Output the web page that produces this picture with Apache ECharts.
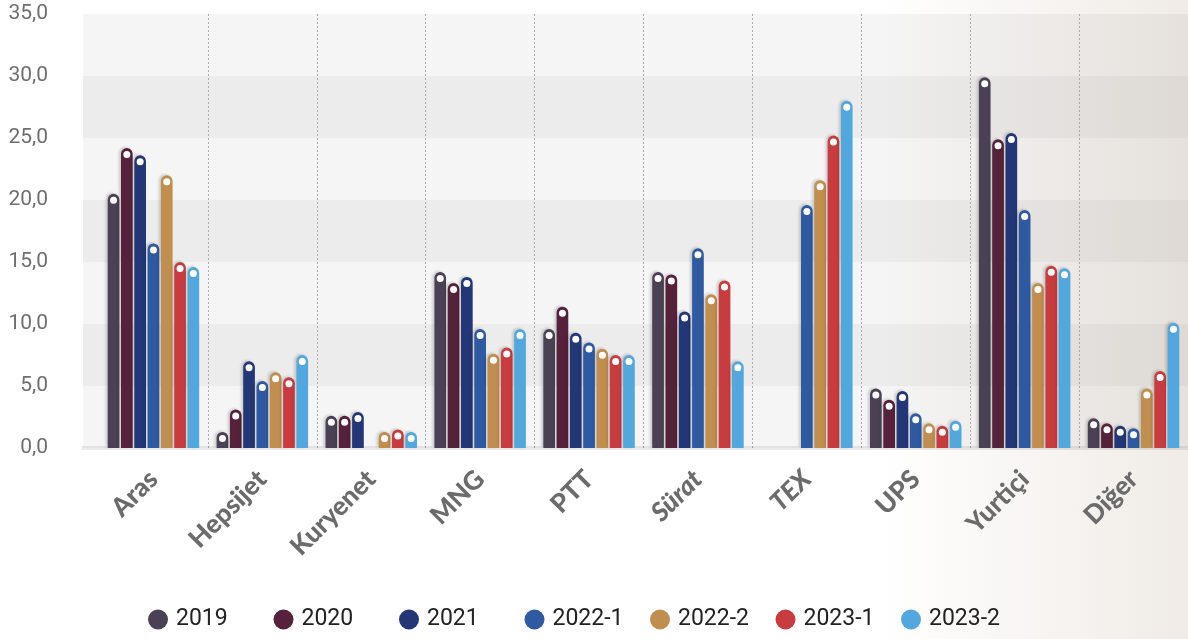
<!DOCTYPE html>
<html>
<head>
<meta charset="utf-8">
<script src="https://cdn.jsdelivr.net/npm/echarts@6/dist/echarts.min.js"></script>
<style>
  html, body { margin: 0; padding: 0; }
  body {
    width: 1188px;
    height: 639px;
    background: linear-gradient(90deg, #ffffff 0%, #ffffff 74%, #f0ebe6 100%);
  }
  #chart { width: 1188px; height: 639px; }
</style>
</head>
<body>
<div id="chart"></div>
<script>
const categories = ["Aras", "Hepsijet", "Kuryenet", "MNG", "PTT", "Sürat", "TEX", "UPS", "Yurtiçi", "Diğer"];
const italicCategories = ["Sürat", "TEX"];

const seriesNames = ["2019", "2020", "2021", "2022-1", "2022-2", "2023-1", "2023-2"];
const seriesColors = ["#4a4254", "#55213b", "#233675", "#2f5aa2", "#c08f4f", "#c83c40", "#52a7dc"];

// one array per period, same order as categories (null = no bar)
const values2019 = [20.5, 1.3, 2.6, 14.2, 9.6, 14.2, null, 4.8, 29.9, 2.4];
const values2020 = [24.2, 3.1, 2.6, 13.3, 11.4, 14.0, null, 3.9, 24.9, 2.0];
const values2021 = [23.6, 7.0, 2.9, 13.8, 9.3, 11.0, null, 4.6, 25.4, 1.8];
const values2022a = [16.5, 5.4, null, 9.6, 8.5, 16.1, 19.6, 2.8, 19.2, 1.6];
const values2022b = [22.0, 6.1, 1.3, 7.6, 8.0, 12.4, 21.6, 2.0, 13.3, 4.8];
const values2023a = [15.0, 5.7, 1.5, 8.1, 7.5, 13.5, 25.2, 1.8, 14.7, 6.2];
const values2023b = [14.6, 7.5, 1.3, 9.6, 7.5, 7.0, 28.0, 2.2, 14.5, 10.1];
const seriesValues = [values2019, values2020, values2021, values2022a, values2022b, values2023a, values2023b];

const yTicks = [0, 5, 10, 15, 20, 25, 30, 35];


const chart = echarts.init(document.getElementById("chart"));

const labelFont = { fontFamily: "Lato", fontWeight: 900, fontSize: 26, color: "#6b6b6b" };

const barSeries = seriesNames.map((name, i) => ({
  name,
  type: "bar",
  xAxisIndex: 0,
  yAxisIndex: 0,
  data: seriesValues[i],
  barGap: "14%",
  barCategoryGap: "16%",
  itemStyle: {
    color: seriesColors[i],
    borderRadius: [6, 6, 0, 0],
    shadowColor: "rgba(0, 0, 0, 0.18)",
    shadowBlur: 3,
    shadowOffsetX: -2,
    shadowOffsetY: -1,
  },
  label: {
    show: true,
    position: "insideTop",
    distance: 3,
    formatter: "{d|}",
    rich: { d: { width: 7, height: 7, borderRadius: 3.5, backgroundColor: "#ffffff" } },
  },
  emphasis: { disabled: true },
}));

// one legend per period so the items keep the reference's even spacing
const legends = seriesNames.map((name, i) => ({
  left: 148 + i * 125.5,
  top: 608,
  padding: 0,
  icon: "circle",
  itemWidth: 20,
  itemHeight: 20,
  data: [name],
  textStyle: { fontFamily: "Roboto", fontSize: 23, color: "#222222", padding: [0, 0, 0, 3] },
}));

chart.setOption({
  animation: false,
  backgroundColor: "transparent",
  legend: legends,
  grid: [
    { left: 99, right: 0, top: 14, bottom: 191 },
    { left: 83, right: 0, top: 14, bottom: 191 },
  ],
  xAxis: [
    {
      type: "category",
      gridIndex: 0,
      data: categories,
      axisLine: { show: false },
      axisTick: { show: false },
      splitLine: {
        show: true,
        interval: (index) => index > 0,
        lineStyle: { color: "#aaaaaa", type: [2, 2], width: 1 },
      },
      axisLabel: {
        rotate: 45,
        margin: 27,
        interval: 0,
        ...labelFont,
        formatter: (v) => (italicCategories.includes(v) ? `{i|${v}}` : `{n|${v}}`),
        rich: {
          n: { ...labelFont },
          i: { ...labelFont, fontStyle: "italic" },
        },
      },
    },
    {
      type: "value",
      gridIndex: 1,
      min: 0,
      max: 1,
      offset: 2,
      axisLine: { show: true, lineStyle: { color: "rgba(0, 0, 0, 0.08)", width: 4 } },
      axisTick: { show: false },
      axisLabel: { show: false },
      splitLine: { show: false },
    },
  ],
  yAxis: [
    {
      type: "value",
      gridIndex: 0,
      min: yTicks[0],
      max: yTicks[yTicks.length - 1],
      interval: 5,
      axisLine: { show: false },
      axisTick: { show: false },
      axisLabel: { show: false },
      splitLine: { show: false },
    },
    {
      type: "value",
      gridIndex: 1,
      min: yTicks[0],
      max: yTicks[yTicks.length - 1],
      interval: 5,
      axisLine: { show: false },
      axisTick: { show: false },
      splitLine: { show: false },
      splitArea: {
        show: true,
        areaStyle: { color: ["rgba(0, 0, 0, 0.04)", "rgba(0, 0, 0, 0.075)"] },
      },
      axisLabel: {
        margin: 35,
        fontFamily: "Roboto",
        fontSize: 21,
        color: "#6e6e6e",
        formatter: (v) => v.toFixed(1).replace(".", ","),
      },
    },
  ],
  series: barSeries,
});
</script>
</body>
</html>
